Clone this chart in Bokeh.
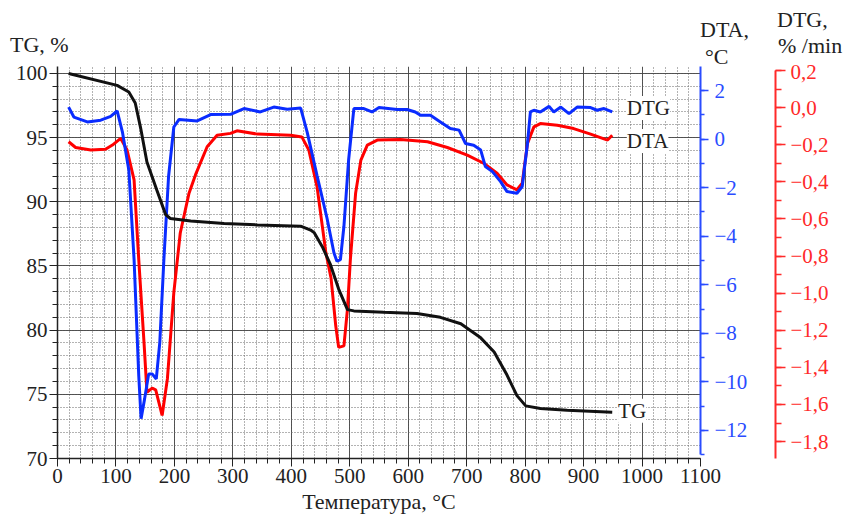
from bokeh.plotting import figure
from bokeh.layouts import column
from bokeh.models import (Range1d, LinearAxis, SingleIntervalTicker, Label,
                          CustomJSTickFormatter, Div)
from bokeh.embed import file_html
from bokeh.resources import INLINE

# ---------------- data ----------------
tg_temp = [19, 102, 122, 133, 142, 153, 170, 185, 193, 228, 285, 342, 416, 433,
           439, 453, 467, 481, 496, 507, 558, 615, 655, 690, 724, 747, 769, 786,
           801, 826, 872, 949]
tg_val = [100.0, 99.07, 98.55, 97.7, 95.8, 93.1, 90.9, 89.0, 88.7, 88.5, 88.3,
          88.2, 88.1, 87.8, 87.6, 86.5, 85.1, 83.2, 81.6, 81.5, 81.4, 81.3, 81.0,
          80.5, 79.4, 78.3, 76.5, 74.9, 74.1, 73.9, 73.75, 73.6]

blue_temp = [19, 28, 51, 74, 91, 102, 111, 122, 131, 139, 143, 149, 156, 162,
             169, 175, 182, 190, 199, 208, 239, 262, 296, 319, 347, 370, 393,
             416, 427, 444, 461, 473, 478, 484, 490, 498, 507, 524, 538, 550,
             581, 598, 612, 621, 638, 655, 672, 687, 698, 712, 724, 732, 744,
             758, 769, 786, 795, 804, 809, 815, 826, 841, 849, 861, 875, 889,
             912, 923, 935, 949]
blue_val = [1.32, 0.91, 0.71, 0.78, 0.94, 1.16, 0.30, -1.27, -4.96, -9.74,
            -11.52, -10.7, -9.67, -9.67, -9.88, -8.37, -4.96, -1.54, 0.50, 0.81,
            0.75, 1.01, 1.02, 1.26, 1.12, 1.32, 1.23, 1.28, 0.30, -1.50, -3.25,
            -4.69, -5.03, -4.96, -3.59, -0.86, 1.26, 1.26, 1.12, 1.30, 1.22,
            1.22, 1.12, 0.98, 0.98, 0.71, 0.44, 0.37, -0.18, -0.25, -0.45,
            -1.13, -1.34, -1.75, -2.16, -2.23, -1.95, -0.18, 1.12, 1.19, 1.12,
            1.35, 1.12, 1.32, 1.05, 1.32, 1.30, 1.19, 1.26, 1.12]

red_temp = [19, 31, 57, 82, 94, 108, 119, 131, 139, 148, 153, 162, 168, 179,
            188, 199, 210, 225, 236, 256, 273, 296, 307, 342, 399, 418, 430,
            444, 459, 468, 476, 481, 490, 496, 501, 510, 519, 530, 547, 587,
            633, 667, 701, 729, 752, 769, 786, 795, 804, 815, 826, 855, 883,
            912, 941, 949]
red_val = [-0.184, -0.215, -0.229, -0.225, -0.202, -0.166, -0.229, -0.390,
           -0.819, -1.265, -1.534, -1.512, -1.521, -1.659, -1.462, -0.997,
           -0.676, -0.461, -0.363, -0.211, -0.149, -0.139, -0.125, -0.143,
           -0.149, -0.158, -0.229, -0.426, -0.780, -0.920, -1.176, -1.292,
           -1.284, -1.087, -0.819, -0.461, -0.283, -0.202, -0.175, -0.172,
           -0.184, -0.215, -0.256, -0.300, -0.354, -0.417, -0.443, -0.408,
           -0.193, -0.104, -0.086, -0.095, -0.113, -0.143, -0.175, -0.149]

FONT = "Liberation Serif"
BLUE = "#0a2cff"
RED = "#ff0000"
BLUE_AX = "#2a4cff"
RED_AX = "#ff2a2a"
INK = "#222222"

# ---------- header strip with the axis titles ----------
HEAD_H = 64
head_items = [("TG, %", 10, 34), ("DTA,", 700, 19), ("°C", 705, 46),
              ("DTG,", 777, 9), ("% /min", 778, 35)]
spans = "".join(
    f'<span style="position:absolute;left:{x}px;top:{y}px;white-space:nowrap;">{t}</span>'
    for t, x, y in head_items)
head_html = (f'<div style="position:relative;width:850px;height:{HEAD_H}px;'
             f"font-family:'{FONT}';font-size:22px;line-height:22px;color:{INK};\">"
             + spans + "</div>")
head = Div(text=head_html, width=850, height=HEAD_H, margin=0)

# ---------------- main chart ----------------
p = figure(width=850, height=516 - HEAD_H, x_range=(0, 1100), y_range=(70, 100.54),
           output_backend="svg", toolbar_location=None,
           min_border_left=57, min_border_right=150, min_border_top=66 - HEAD_H,
           min_border_bottom=56, margin=0)
p.outline_line_color = None
p.background_fill_color = "white"

p.extra_y_ranges = {"blue": Range1d(-13.156, 2.992),
                    "red": Range1d(-1.891, 0.2214)}

xa = p.xaxis[0]
xa.ticker = SingleIntervalTicker(interval=100, num_minor_ticks=5)
xa.axis_label = "Температура, °C"
xa.axis_label_text_font = FONT
xa.axis_label_text_font_size = "22px"
xa.axis_label_text_font_style = "normal"
xa.axis_label_text_color = INK
xa.axis_label_standoff = 3
ya = p.yaxis[0]
ya.ticker = SingleIntervalTicker(interval=5, num_minor_ticks=5)
for ax in (xa, ya):
    ax.major_label_text_font = FONT
    ax.major_label_text_font_size = "21px"
    ax.major_label_text_color = INK
    ax.axis_line_color = INK
    ax.axis_line_width = 1.5
    ax.major_tick_line_color = INK
    ax.minor_tick_line_color = INK
    ax.major_tick_in = 0
    ax.major_tick_out = 8
    ax.minor_tick_in = 0
    ax.minor_tick_out = 5
    ax.major_label_standoff = 2

for g in (p.xgrid[0], p.ygrid[0]):
    g.grid_line_color = "#444444"
    g.grid_line_width = 1
    g.grid_line_alpha = 0.9
    g.minor_grid_line_color = "#666666"
    g.minor_grid_line_dash = "1 2"
    g.minor_grid_line_width = 1

blue_ax = LinearAxis(y_range_name="blue",
                     ticker=SingleIntervalTicker(interval=2, num_minor_ticks=2),
                     bounds=(-13, 3))
blue_ax.formatter = CustomJSTickFormatter(
    code="var v = Math.round(tick); return v < 0 ? '\u2212' + Math.abs(v) : '' + v;")
blue_ax.axis_label = "\u00a0"
blue_ax.axis_label_standoff = 5
blue_ax.axis_label_text_font_size = "16px"
red_ax = LinearAxis(y_range_name="red",
                    ticker=SingleIntervalTicker(interval=0.2, num_minor_ticks=2),
                    bounds=(-1.9, 0.2))
red_ax.formatter = CustomJSTickFormatter(code="""
var v = Math.round(tick*10)/10;
if (Math.abs(v) < 1e-9) { return '0,0'; }
var s = Math.abs(v).toFixed(1).replace('.', ',');
return v < 0 ? '\u2212' + s : s;
""")
for ax, col, to, mo, so in ((blue_ax, BLUE_AX, 8, 4, 6), (red_ax, RED_AX, 10, 6, 5)):
    ax.axis_line_color = col
    ax.axis_line_width = 2
    ax.major_tick_line_color = col
    ax.minor_tick_line_color = col
    ax.major_tick_line_width = 1.5
    ax.minor_tick_line_width = 1.5
    ax.major_tick_in = 0
    ax.major_tick_out = to
    ax.minor_tick_in = 0
    ax.minor_tick_out = mo
    ax.major_label_text_color = col
    ax.major_label_text_font = FONT
    ax.major_label_text_font_size = "21px"
    ax.major_label_standoff = so
p.add_layout(blue_ax, "right")
p.add_layout(red_ax, "right")

p.line(red_temp, red_val, y_range_name="red", line_color=RED, line_width=3)
p.line(blue_temp, blue_val, y_range_name="blue", line_color=BLUE, line_width=3)
p.line(tg_temp, tg_val, line_color="#111111", line_width=3)

def lab(x, y, t, size="21px"):
    p.add_layout(Label(x=x, y=y, text=t, text_font=FONT, text_font_size=size,
                       text_color=INK, text_baseline="middle", text_align="left",
                       background_fill_color="white", background_fill_alpha=1.0))

lab(974, 97.3, "DTG")
lab(974, 94.73, "DTA")
lab(959, 73.72, "TG")

layout = column(head, p, spacing=0)
open("out.html", "w").write(file_html(layout, INLINE))
